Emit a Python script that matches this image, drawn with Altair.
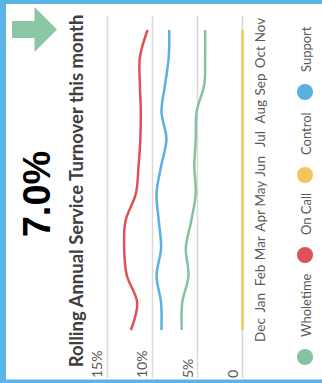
import altair as alt
import pandas as pd

# ---- data ----
months = ["Dec", "Jan", "Feb", "Mar", "Apr", "May", "Jun", "Jul", "Aug", "Sep", "Oct", "Nov"]
wholetime = [6.75, 6.7, 6.0, 6.3, 5.7, 5.2, 5.35, 5.2, 5.1, 4.25, 4.15, 4.15]
on_call = [12.4, 11.7, 12.85, 13.15, 13.0, 11.85, 11.55, 11.35, 11.3, 11.4, 11.4, 10.55]
control = [0.0, 0.0, 0.0, 0.0, 0.0, 0.0, 0.0, 0.0, 0.0, 0.0, 0.0, 0.0]
support = [9.0, 9.05, 9.55, 9.05, 9.3, 9.55, 9.05, 8.45, 9.0, 8.6, 8.2, 8.15]
series_names = ["Wholetime", "On Call", "Control", "Support"]
series_colors = ["#86C29F", "#DF5156", "#F1C75B", "#5AB0E3"]
tick_values = [0, 5, 10, 15]
tick_labels = ["0", "5%", "10%", "15%"]
headline = "7.0%"
title_text = "Rolling Annual Service Turnover this month"

# ---- tables ----
rows = []
for name, vals in zip(series_names, [wholetime, on_call, control, support]):
    for i, (m, v) in enumerate(zip(months, vals)):
        rows.append({"series": name, "idx": i, "month": m, "value": v})
lines_df = pd.DataFrame(rows)
months_df = pd.DataFrame({"idx": list(range(len(months))), "month": months})
ticks_df = pd.DataFrame({"v": tick_values, "label": tick_labels})
one = pd.DataFrame({"k": [0]})

xs = alt.Scale(domain=[-8.833, 26.944], reverse=True, nice=False, zero=False)
ys = alt.Scale(domain=[-1.943, 12.1], nice=False, zero=False)
cs = alt.Scale(domain=series_names, range=series_colors)

GRAY = "#595959"
FONT = "Lato"

grid = alt.Chart(ticks_df).mark_rule(color="#D9D9D9", strokeWidth=1.5).encode(
    x=alt.X("v:Q", scale=xs, axis=None),
    y=alt.value(16), y2=alt.value(378),
)

tick_text = alt.Chart(ticks_df).mark_text(
    angle=270, align="left", baseline="alphabetic", dy=-5,
    font=FONT, fontSize=14, color=GRAY,
).encode(
    x=alt.X("v:Q", scale=xs, axis=None),
    y=alt.value(378),
    text="label:N",
)

lines = alt.Chart(lines_df).mark_line(interpolate="catmull-rom", strokeWidth=2.5).encode(
    x=alt.X("value:Q", scale=xs, axis=None),
    y=alt.Y("idx:Q", scale=ys, axis=None),
    color=alt.Color("series:N", scale=cs, legend=None),
    order=alt.Order("idx:Q"),
    detail="series:N",
)

month_text = alt.Chart(months_df).mark_text(
    angle=270, align="center", baseline="alphabetic",
    font=FONT, fontSize=13.5, color=GRAY,
).encode(
    y=alt.Y("idx:Q", scale=ys, axis=None),
    x=alt.value(265),
    text="month:N",
)

# legend (rotated, drawn by hand)
legend_layers = []
legend_y = [357, 255, 175, 92]
for name, col, cy in zip(series_names, series_colors, legend_y):
    legend_layers.append(
        alt.Chart(one).mark_point(shape="circle", filled=True, size=260, opacity=1, color=col, strokeWidth=0)
        .encode(x=alt.value(305), y=alt.value(cy))
    )
    legend_layers.append(
        alt.Chart(one).mark_text(angle=270, align="left", baseline="alphabetic",
                                 font=FONT, fontSize=13, color=GRAY)
        .encode(x=alt.value(311), y=alt.value(cy - 20), text=alt.value(name))
    )

title = alt.Chart(one).mark_text(
    angle=270, align="center", baseline="alphabetic",
    font=FONT, fontSize=18.5, fontWeight="bold", color="#404040",
).encode(x=alt.value(83), y=alt.value(191), text=alt.value(title_text))

big = alt.Chart(one).mark_text(
    angle=270, align="center", baseline="alphabetic",
    font="Liberation Sans", fontSize=38, fontWeight="bold", color="#000000",
).encode(x=alt.value(50), y=alt.value(194), text=alt.value(headline))

arrow = alt.Chart(one).mark_point(
    shape="M -1 -0.38 L 0 -0.38 L 0 -1 L 1 0 L 0 1 L 0 0.38 L -1 0.38 Z",
    filled=True, size=2025, opacity=1, color="#8CC7A5", strokeWidth=0,
).encode(x=alt.value(34.5), y=alt.value(29.5))

BORDER = "#5AB4E4"
border_left = alt.Chart(one).mark_rule(color=BORDER, strokeWidth=6).encode(
    x=alt.value(3), y=alt.value(0), y2=alt.value(383))
border_top = alt.Chart(one).mark_rule(color=BORDER, strokeWidth=4).encode(
    y=alt.value(2), x=alt.value(0), x2=alt.value(322))
border_bottom = alt.Chart(one).mark_rule(color=BORDER, strokeWidth=4).encode(
    y=alt.value(381.5), x=alt.value(0), x2=alt.value(322))

chart = alt.layer(
    grid, tick_text, lines, month_text, *legend_layers, title, big, arrow,
    border_left, border_top, border_bottom,
).properties(
    width=322, height=383, padding=0,
    autosize=alt.AutoSizeParams(type="none"),
    background="#FFFFFF",
).configure_view(stroke=None)

chart.save("out.html", embed_options={"renderer": "svg", "actions": False})
